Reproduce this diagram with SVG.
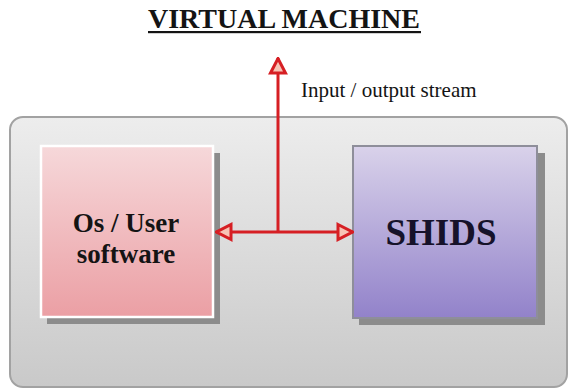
<svg xmlns="http://www.w3.org/2000/svg" width="573" height="390" viewBox="0 0 573 390">
  <defs>
    <linearGradient id="gradFrame" x1="0" y1="0" x2="0" y2="1">
      <stop offset="0" stop-color="#ededed"/>
      <stop offset="1" stop-color="#c9c9c9"/>
    </linearGradient>
    <linearGradient id="gradPink" x1="0" y1="0" x2="0" y2="1">
      <stop offset="0" stop-color="#f6d8da"/>
      <stop offset="1" stop-color="#eb9fa4"/>
    </linearGradient>
    <linearGradient id="gradViolet" x1="0" y1="0" x2="0" y2="1">
      <stop offset="0" stop-color="#d9d2ea"/>
      <stop offset="1" stop-color="#9282ca"/>
    </linearGradient>
    <marker id="head" viewBox="0 0 18 20" refX="17" refY="10" markerWidth="18" markerHeight="20" markerUnits="userSpaceOnUse" orient="auto">
      <path d="M2,2.5 L16.5,10 L2,17.5 Z" fill="#f7c4b6" stroke="#d61f24" stroke-width="3" stroke-linejoin="miter"/>
    </marker>
  </defs>
  <style>
    text { font-family: "Liberation Serif", "DejaVu Serif", "Times New Roman", serif; fill: #141414; }
    .title { font-size: 28px; font-weight: bold; }
    .label { font-size: 21px; }
    .node { font-size: 27px; font-weight: bold; }
    .big { font-size: 37px; font-weight: bold; fill: #16122a; }
    .shadow { fill: #8c8c8c; }
    .wire { fill: none; stroke: #d61f24; stroke-width: 3; }
  </style>

  <rect width="573" height="390" fill="#ffffff"/>

  <g id="title">
    <text class="title" x="284" y="28" text-anchor="middle">VIRTUAL MACHINE</text>
    <rect x="148" y="31" width="273" height="2.2" fill="#141414"/>
  </g>

  <g id="frame">
    <rect x="10" y="117" width="557" height="270" rx="13" fill="url(#gradFrame)" stroke="#a2a2a2" stroke-width="2"/>
  </g>

  <g id="os-software">
    <rect class="shadow" x="47" y="153" width="173" height="171"/>
    <rect x="41" y="146" width="172" height="171" fill="url(#gradPink)" stroke="#ffffff" stroke-width="2.5"/>
    <text class="node" x="126" y="232" text-anchor="middle">Os / User</text>
    <text class="node" x="126" y="263" text-anchor="middle">software</text>
  </g>

  <g id="shids">
    <rect class="shadow" x="359" y="153" width="186" height="172"/>
    <rect x="353" y="146" width="184" height="172" fill="url(#gradViolet)" stroke="#8e8e9a" stroke-width="2"/>
    <text class="big" x="441" y="245" text-anchor="middle">SHIDS</text>
  </g>

  <g id="connectors">
    <path class="wire" d="M278,232 L278,58" marker-end="url(#head)"/>
    <path class="wire" d="M278,232 L216,232" marker-end="url(#head)"/>
    <path class="wire" d="M278,232 L353,232" marker-end="url(#head)"/>
    <text class="label" x="301" y="97">Input / output stream</text>
  </g>
</svg>
